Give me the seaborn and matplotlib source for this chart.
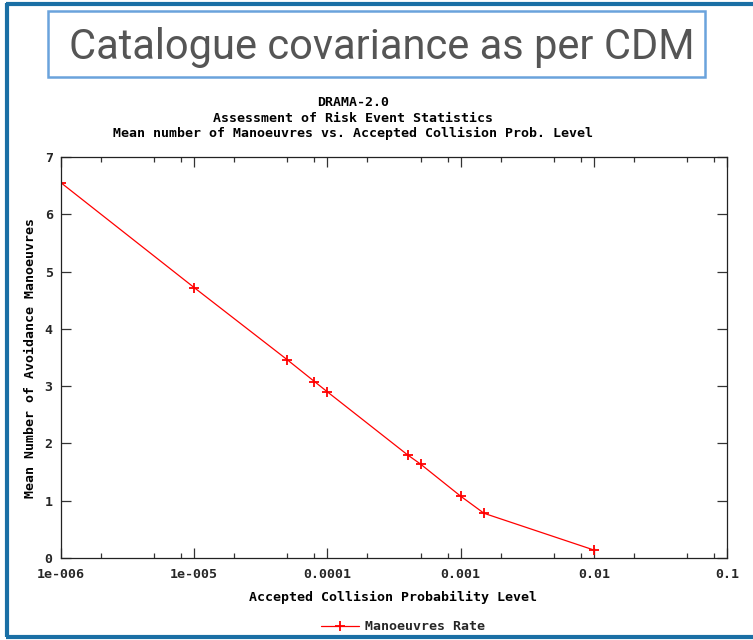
import matplotlib
matplotlib.use("Agg")
import matplotlib.pyplot as plt
import matplotlib.ticker as mticker
from matplotlib.patches import Rectangle
from matplotlib.lines import Line2D
import seaborn as sns
import pandas as pd

# Data
prob_level = [1e-6, 1e-5, 5e-5, 8e-5, 1e-4, 4e-4, 5e-4, 1e-3, 1.5e-3, 1e-2]
mean_manoeuvres = [6.55, 4.72, 3.46, 3.08, 2.90, 1.80, 1.64, 1.08, 0.78, 0.14]
series_name = "Manoeuvres Rate"
x_ticks = [1e-6, 1e-5, 1e-4, 1e-3, 1e-2, 1e-1]
x_tick_labels = ["1e-006", "1e-005", "0.0001", "0.001", "0.01", "0.1"]
y_ticks = [0, 1, 2, 3, 4, 5, 6, 7]
slide_title = "Catalogue covariance as per CDM"
plot_title = ["DRAMA-2.0", "Assessment of Risk Event Statistics",
              "Mean number of Manoeuvres vs. Accepted Collision Prob. Level"]
x_label = "Accepted Collision Probability Level"
y_label = "Mean Number of Avoidance Manoeuvres"

df = pd.DataFrame({"p": prob_level, "n": mean_manoeuvres})

sns.set_theme(style="white")
plt.rcParams["font.family"] = ["DejaVu Sans Mono", "DejaVu Sans"]

W, H = 753, 640
FS = 9.5
fig = plt.figure(figsize=(W / 100, H / 100), dpi=100)
fig.patch.set_facecolor("white")

mono = dict(family=["DejaVu Sans Mono"], fontweight="bold", fontsize=FS, color="black")

ax = fig.add_axes([61 / W, 1 - 558 / H, (727 - 61) / W, (558 - 157) / H])
sns.lineplot(data=df, x="p", y="n", ax=ax, color="#ff0000", linewidth=0.9,
             marker="+", markersize=7, markeredgewidth=1.3,
             markeredgecolor="#ff0000", legend=False)
ax.set_xscale("log")
ax.set_xlim(1e-6, 1e-1)
ax.set_ylim(0, 7)
ax.set_xticks(x_ticks)
ax.set_xticklabels(x_tick_labels)
ax.xaxis.set_minor_locator(mticker.FixedLocator(
    [m * 10.0 ** e for e in range(-6, -1) for m in (2, 5, 8)]))
ax.xaxis.set_minor_formatter(mticker.NullFormatter())
ax.set_yticks(y_ticks)
for lab in ax.get_xticklabels() + ax.get_yticklabels():
    lab.set_fontfamily("DejaVu Sans Mono")
    lab.set_fontweight("bold")
    lab.set_fontsize(FS)
ax.tick_params(which="major", direction="in", length=7, width=0.9,
               top=True, right=True, bottom=True, left=True, color="#333333")
ax.tick_params(which="minor", direction="in", length=3.5, width=0.9,
               top=True, bottom=True, color="#333333")
ax.tick_params(axis="x", which="major", pad=7)
ax.tick_params(axis="y", which="major", pad=6)
for s in ax.spines.values():
    s.set_visible(True)
    s.set_color("#222222")
    s.set_linewidth(0.9)
ax.set_xlabel("")
ax.set_ylabel("")

# Axis labels
fig.text(393 / W, 1 - 597 / H, x_label, ha="center", va="center", **mono)
fig.text(31 / W, 1 - 358 / H, y_label, ha="center", va="center", rotation=90, **mono)

# Plot title
for t, yy in zip(plot_title, [103, 118, 133]):
    fig.text(353 / W, 1 - yy / H, t, ha="center", va="center", **mono)

# Legend
handle = Line2D([], [], color="#ff0000", linewidth=0.9, marker="+",
                markersize=7, markeredgewidth=1.3)
leg = fig.legend([handle], [series_name], loc="center",
                 bbox_to_anchor=(403 / W, 1 - 627 / H), frameon=False,
                 prop=dict(family="DejaVu Sans Mono", weight="bold", size=FS),
                 handlelength=2.9, handletextpad=0.5, borderpad=0)

# Slide decorations: outer frame and title box
frame_col = "#1a6fa5"
fig.add_artist(Line2D([7 / W, 7 / W], [1 - 3 / H, 1 - 637 / H], color=frame_col,
                      linewidth=3, transform=fig.transFigure, solid_capstyle="butt"))
fig.add_artist(Line2D([6 / W, 1.0], [1 - 3.5 / H, 1 - 3.5 / H], color=frame_col,
                      linewidth=3, transform=fig.transFigure, solid_capstyle="butt"))
fig.add_artist(Line2D([6 / W, 1.0], [1 - 636.5 / H, 1 - 636.5 / H], color=frame_col,
                      linewidth=3, transform=fig.transFigure, solid_capstyle="butt"))
fig.add_artist(Rectangle((48 / W, 1 - 77 / H), (705 - 48) / W, (77 - 11) / H,
                         transform=fig.transFigure, fill=False,
                         edgecolor="#6aa3dc", linewidth=1.8))
fig.text(382 / W, 1 - 47 / H, slide_title, ha="center", va="center",
         fontsize=30, color="#555555", family=["Roboto", "DejaVu Sans"])

fig.savefig("out.png", dpi=100, facecolor="white")
